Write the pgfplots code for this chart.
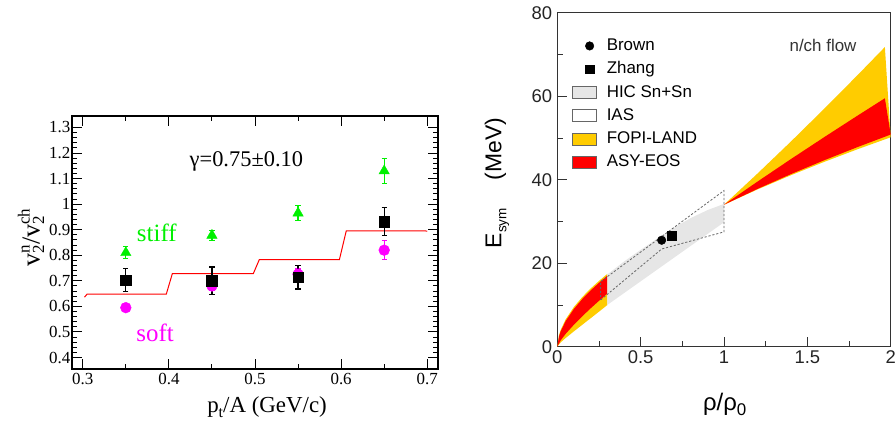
\documentclass[border=0pt]{standalone}
\usepackage{fontspec}
\setmainfont{Liberation Serif}
\newfontfamily\sansf{Liberation Sans}
\usepackage{pgfplots}
\pgfplotsset{compat=1.18}
\definecolor{fopi}{HTML}{FFCC00}
\definecolor{asy}{HTML}{FF0000}
\definecolor{hic}{HTML}{E6E6E6}
\definecolor{stiffc}{HTML}{00F000}
\definecolor{softc}{HTML}{FF00FF}
\definecolor{axgray}{HTML}{333333}
\definecolor{iasc}{HTML}{666666}
\newcommand{\fs}[1]{\fontsize{#1}{#1}\selectfont}
\newcommand{\subsup}[3]{#1\rlap{\raisebox{-4.5bp}{\fs{17}#2}}\raisebox{10bp}{\fs{17}#3}}
\pgfplotsset{
  boxlegend/.style={legend image code/.code={\draw[##1] (0bp,-6bp) rectangle (24bp,6bp);}},
  marklegend/.style={legend image code/.code={\draw[mark repeat=2, mark phase=2, ##1] plot coordinates {(0bp,0bp) (17bp,0bp) (24bp,0bp)};}},
}
\begin{document}
\begin{tikzpicture}
\useasboundingbox (0,0) rectangle (895bp,423bp);
% ---------------- left panel ----------------
\begin{axis}[
  at={(72bp,54bp)}, anchor=south west, scale only axis,
  width=366bp, height=253bp,
  xmin=0.2875, xmax=0.7125, ymin=0.355, ymax=1.345,
  xtick={0.3,0.4,0.5,0.6,0.7}, xticklabels={0.3,0.4,0.5,0.6,0.7},
  ytick={0.4,0.5,0.6,0.7,0.8,0.9,1,1.1,1.2,1.3},
  yticklabels={0.4,0.5,0.6,0.7,0.8,0.9,1,1.1,1.2,1.3},
  minor x tick num=1, minor y tick num=4,
  tick align=inside, major tick length=10bp, minor tick length=5bp,
  tick style={line width=1bp, black},
  axis line style={line width=1.6bp},
  ticklabel style={font=\fs{17}},
  yticklabel style={inner sep=1.5bp},
  xticklabel style={inner sep=4bp},
  xlabel={p\raisebox{-5bp}{\fs{16}t}/A (GeV/c)},
  ylabel={\subsup{v}{2}{n}/\subsup{v}{2}{ch}},
  xlabel style={font=\fs{23}, at={(axis description cs:0.533,-0.15)}, anchor=center},
  ylabel style={font=\fs{26}, at={(axis description cs:-0.112,0.52)}, anchor=center},
  clip=false,
]
\addplot[red, line width=1bp] coordinates {
 (0.302,0.636) (0.305,0.648) (0.397,0.648) (0.404,0.728) (0.498,0.728)
 (0.505,0.783) (0.598,0.783) (0.606,0.896) (0.697,0.896) (0.700,0.894)};
\addplot[only marks, color=softc, mark=*, mark size=5.4bp,
  error bars/.cd, y dir=both, y explicit,
  error bar style={line width=1.2bp},
  error mark options={rotate=90, mark size=2.6bp, line width=1.2bp}]
 coordinates {(0.35,0.595) +- (0,0.015) (0.45,0.680) +- (0,0.016)
              (0.55,0.726) +- (0,0.02) (0.65,0.820) +- (0,0.037)};
\addplot[only marks, color=stiffc, mark=triangle*, mark size=6bp,
  error bars/.cd, y dir=both, y explicit,
  error bar style={line width=1.2bp},
  error mark options={rotate=90, mark size=2.6bp, line width=1.2bp}]
 coordinates {(0.35,0.810) +- (0,0.024) (0.45,0.878) +- (0,0.019)
              (0.55,0.965) +- (0,0.030) (0.65,1.130) +- (0,0.048)};
\addplot[only marks, color=black, mark=square*, mark size=5.3bp,
  error bars/.cd, y dir=both, y explicit,
  error bar style={line width=1.2bp},
  error mark options={rotate=90, mark size=2.6bp, line width=1.2bp}]
 coordinates {(0.35,0.703) +- (0,0.044) (0.45,0.700) +- (0,0.054)
              (0.55,0.714) +- (0,0.046) (0.65,0.931) +- (0,0.055)};
\node[font=\fs{22.5}] at (axis cs:0.49,1.169) {γ=0.75±0.10};
\node[font=\fs{25}, text=stiffc] at (axis cs:0.386,0.887) {stiff};
\node[font=\fs{25}, text=softc] at (axis cs:0.384,0.498) {soft};
\end{axis}
% ---------------- right panel ----------------
\begin{axis}[
  at={(557.3bp,76.3bp)}, anchor=south west, scale only axis,
  width=333.4bp, height=334bp,
  xmin=0, xmax=2, ymin=0, ymax=80,
  xtick={0,0.5,1,1.5,2}, xticklabels={0,0.5,1,1.5,2},
  ytick={0,20,40,60,80}, yticklabels={0,20,40,60,80},
  minor x tick num=1, minor y tick num=1,
  xtick pos=bottom, ytick pos=left,
  tick align=inside, major tick length=10bp, minor tick length=5.5bp,
  tick style={line width=0.9bp, axgray},
  axis line style={line width=0.9bp, axgray},
  ticklabel style={font=\sansf\fs{18.5}, text=axgray!70!black},
  xticklabel style={inner sep=4bp},
  yticklabel style={inner sep=5bp},
  xlabel={ρ/ρ\raisebox{-5bp}{\fs{17}0}},
  ylabel={E\raisebox{-5bp}{\fs{13.5}sym}\hspace{28bp}(MeV)},
  xlabel style={font=\sansf\fs{24}, at={(axis description cs:0.502,-0.174)}, anchor=center},
  ylabel style={font=\sansf\fs{23}, at={(axis description cs:-0.181,0.49)}, anchor=center},
  legend style={at={(rel axis cs:0.044,0.928)}, anchor=north west, draw=none, fill=none,
    font=\sansf\fs{17}, inner sep=0pt, row sep=5.3bp, column sep=8.7bp,
    nodes={text height=12.5bp, text depth=3.5bp, inner sep=1bp}},
  legend cell align=left,
]
\addlegendimage{marklegend, only marks, mark=*, mark size=4.3bp, black}
\addlegendentry{Brown}
\addlegendimage{marklegend, only marks, mark=square*, mark size=4.4bp, black}
\addlegendentry{Zhang}
\addlegendimage{boxlegend, fill=hic, draw=iasc, line width=0.9bp}
\addlegendentry{HIC Sn+Sn}
\addlegendimage{boxlegend, fill=white, draw=iasc, line width=0.9bp}
\addlegendentry{IAS}
\addlegendimage{boxlegend, fill=fopi, draw=iasc, line width=0.9bp}
\addlegendentry{FOPI-LAND}
\addlegendimage{boxlegend, fill=asy, draw=iasc, line width=0.9bp}
\addlegendentry{ASY-EOS}
\addplot[fill=fopi, draw=none, forget plot] coordinates {
 (0,0) (0.01,2.76) (0.02,3.99) (0.05,6.55) (0.1,9.54) (0.15,11.91) (0.2,13.94) (0.25,15.76) (0.3,17.43)
 (0.3,9.98) (0.25,8.39) (0.2,6.82) (0.15,5.26) (0.1,3.69) (0.05,2.08) (0.02,1.02) (0,0)};
\addplot[fill=asy, draw=none, forget plot] coordinates {
 (0,0) (0.01,2.47) (0.02,3.65) (0.05,6.13) (0.1,9.08) (0.15,11.44) (0.2,13.48) (0.25,15.32) (0.3,17.00)
 (0.3,12.73) (0.25,10.99) (0.2,9.19) (0.15,7.30) (0.1,5.29) (0.05,3.07) (0.02,1.51) (0,0)};
\addplot[fill=fopi, draw=none, forget plot] coordinates {
 (1,34) (1.2,41.44) (1.4,49.09) (1.6,56.95) (1.8,65.00) (1.965,71.77)
 (2.0,50.16) (1.8,47.28) (1.6,44.25) (1.4,41.05) (1.2,37.65) (1,34)};
\addplot[fill=asy, draw=none, forget plot] coordinates {
 (1,34) (1.2,39.52) (1.4,44.90) (1.6,50.16) (1.8,55.32) (1.965,59.51)
 (2.0,50.82) (1.8,47.80) (1.6,44.64) (1.4,41.31) (1.2,37.78) (1,34)};
\addplot[fill=hic, draw=none, forget plot] coordinates {
 (0.3,17.3) (0.4,20.4) (0.5,23.2) (0.6,25.9) (0.7,28.5) (0.8,30.8) (0.9,32.7) (1.0,34.2)
 (1.0,29.8) (0.3,10.0) (0.3,17.3)};
\addplot[draw=iasc, line width=0.8bp, dash pattern=on 2.2bp off 1.8bp, forget plot] coordinates {
 (0.26,11.2) (0.626,23.4) (1.0,27.5) (1.0,37.4) (0.26,15.6) (0.26,11.2)};
\addplot[only marks, mark=*, mark size=4.3bp, black, forget plot] coordinates {(0.626,25.5)};
\addplot[only marks, mark=square*, mark size=4.6bp, black, forget plot] coordinates {(0.686,26.6)};
\node[font=\sansf\fs{17}, text=axgray] at (axis cs:1.594,72.1) {n/ch flow};
\end{axis}
\end{tikzpicture}
\end{document}
